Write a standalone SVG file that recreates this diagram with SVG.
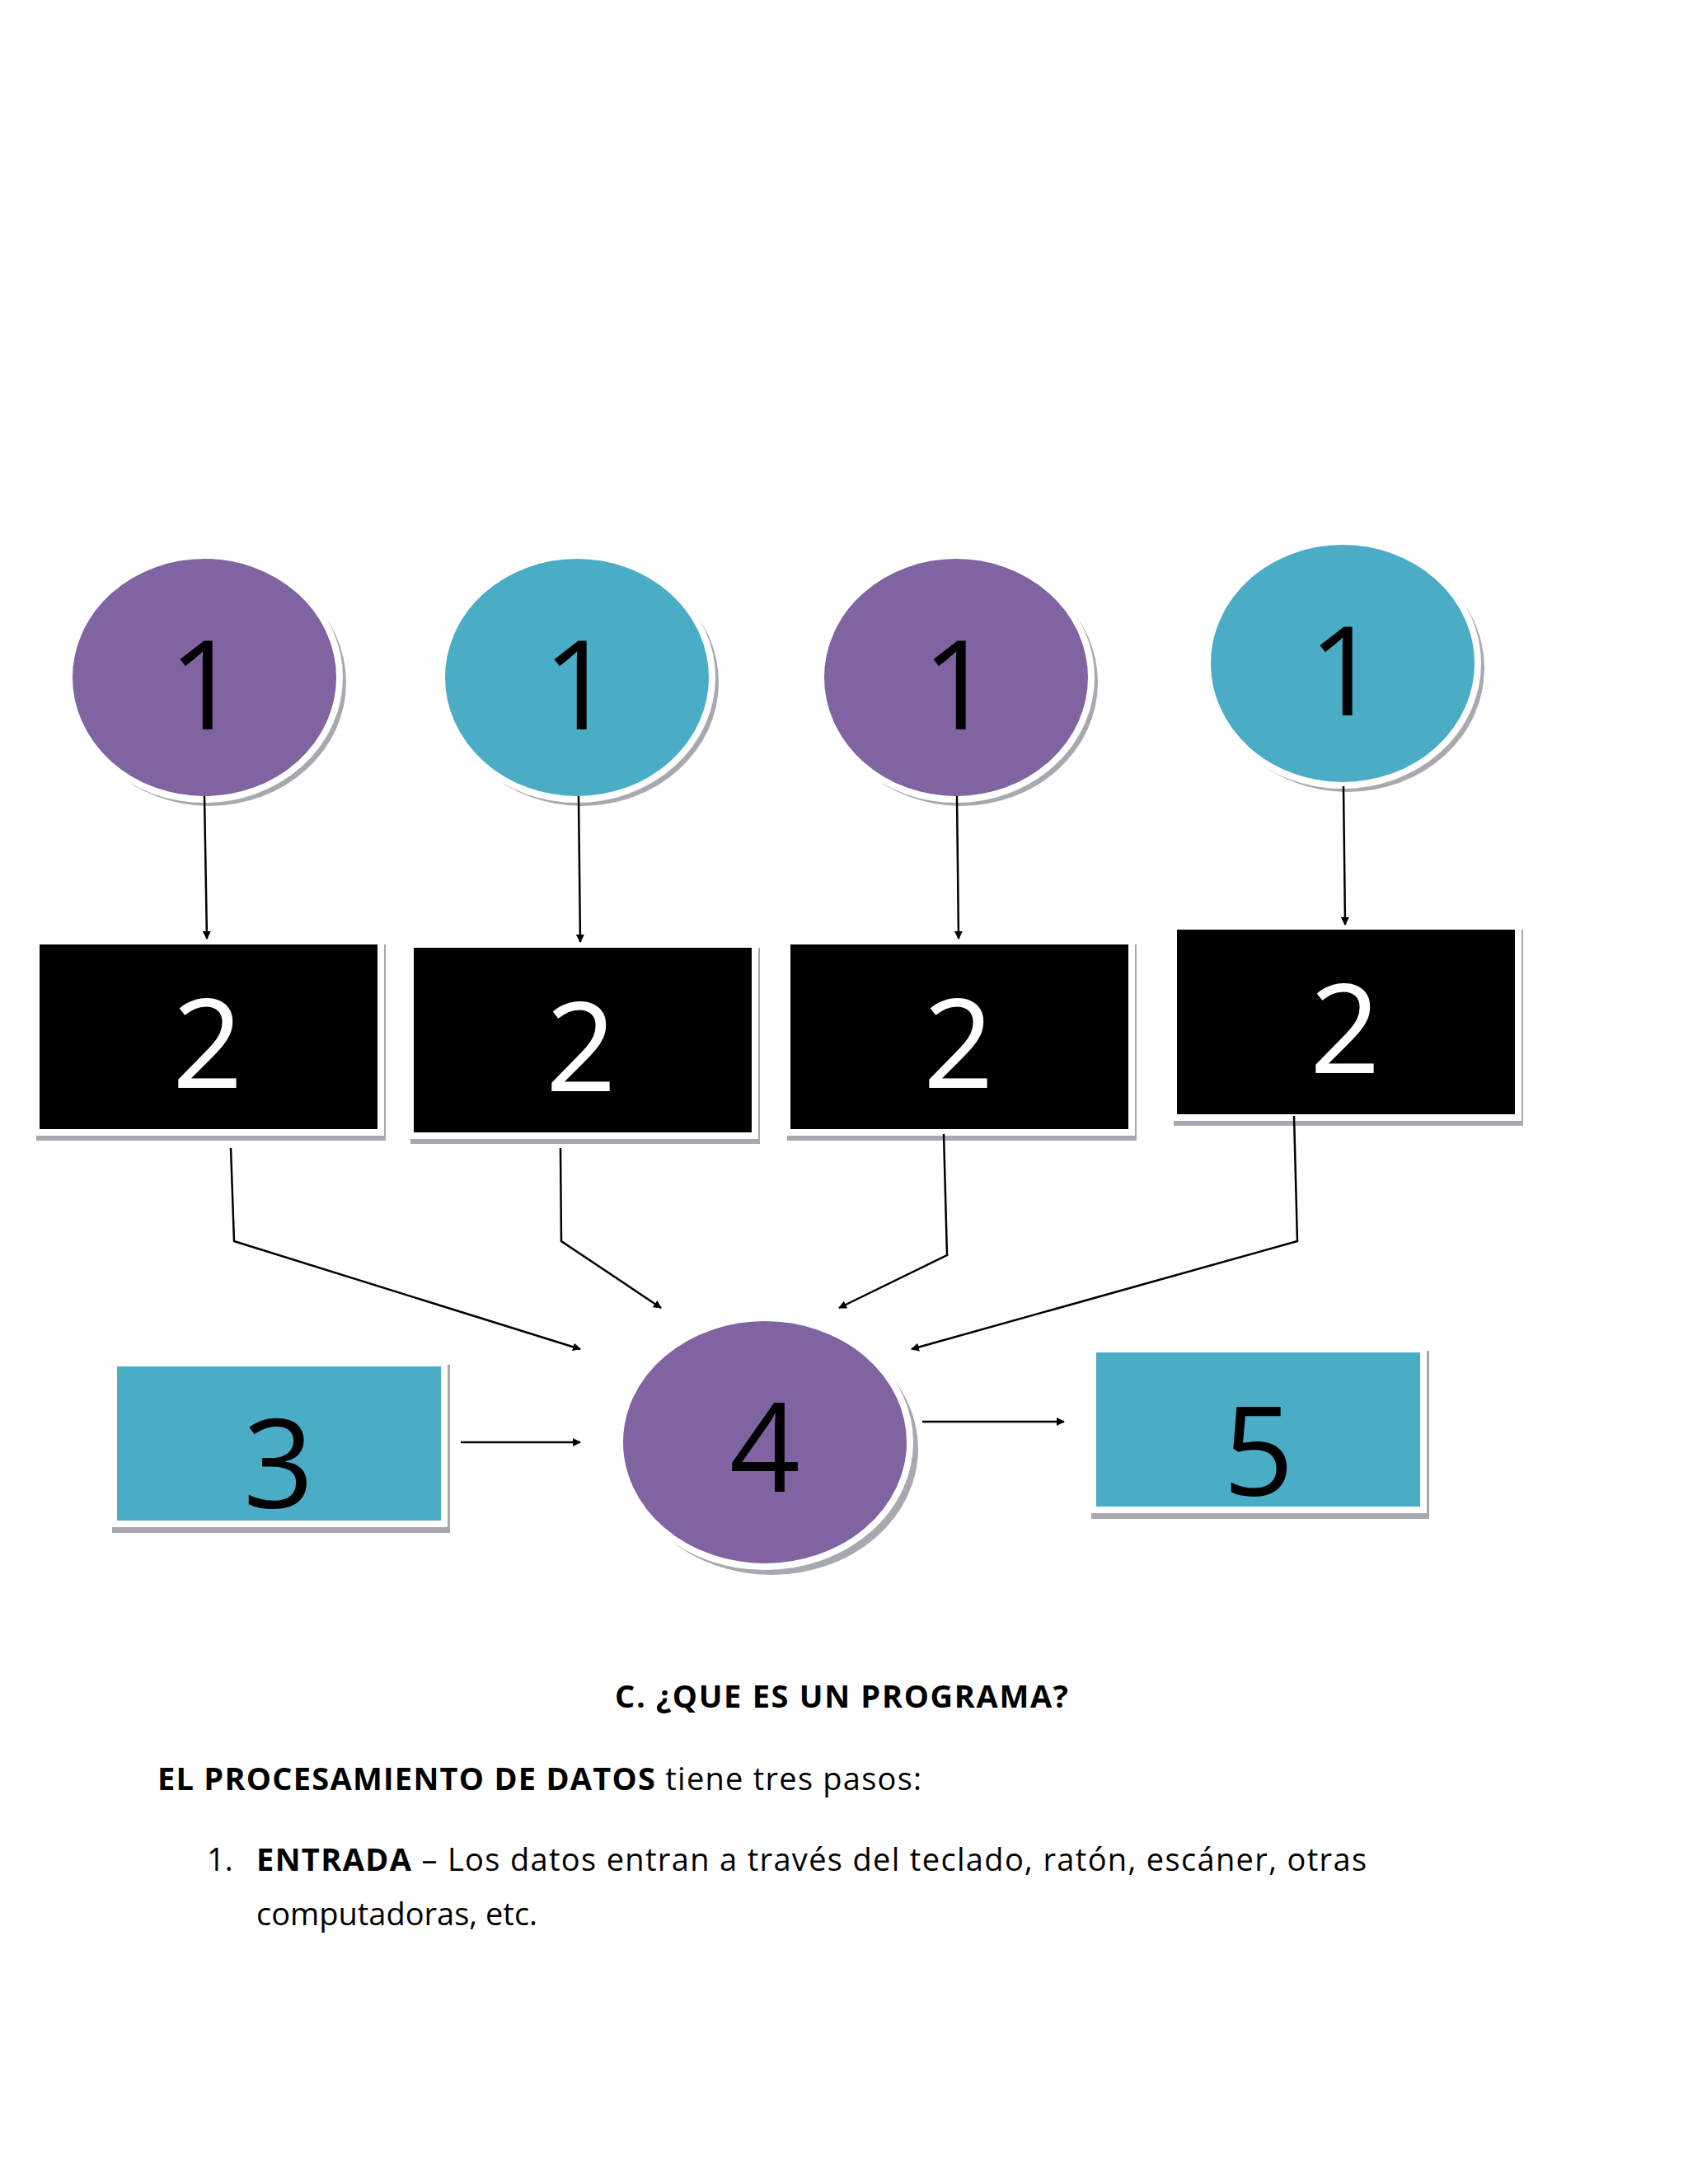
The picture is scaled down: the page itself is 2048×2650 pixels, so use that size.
<svg xmlns="http://www.w3.org/2000/svg" width="2048" height="2650" viewBox="0 0 2048 2650">
<style>
.sh{fill:#a8a8b0}
.p{fill:#8064A2;stroke:#fff;stroke-width:8}
.t{fill:#4BACC6;stroke:#fff;stroke-width:8}
.k{fill:#000;stroke:#fff;stroke-width:8}
.n{font-family:"Open Sans","Liberation Sans",sans-serif;font-size:150px;text-anchor:middle}
.c{stroke:#000;stroke-width:2.5;fill:none}
.tx{font-family:"Open Sans","Liberation Sans",sans-serif;font-size:38px;fill:#000}
</style>
<defs><marker id="a" markerWidth="10" markerHeight="10" refX="9" refY="5" orient="auto" markerUnits="userSpaceOnUse" viewBox="0 0 10 10"><path d="M0,0L10,5L0,10z"/></marker></defs>
<rect width="2048" height="2650" fill="#fff"/>
<g id="n1a"><ellipse class="sh" cx="254" cy="828" rx="166" ry="150"/><ellipse class="p" cx="248" cy="822" rx="164" ry="148"/><text class="n" x="248" y="885">1</text></g>
<g id="n1b"><ellipse class="sh" cx="706" cy="828" rx="166" ry="150"/><ellipse class="t" cx="700" cy="822" rx="164" ry="148"/><text class="n" x="702" y="885">1</text></g>
<g id="n1c"><ellipse class="sh" cx="1166" cy="828" rx="166" ry="150"/><ellipse class="p" cx="1160" cy="822" rx="164" ry="148"/><text class="n" x="1162" y="885">1</text></g>
<g id="n1d"><ellipse class="sh" cx="1635" cy="811" rx="166" ry="150"/><ellipse class="t" cx="1629" cy="805" rx="164" ry="148"/><text class="n" x="1631" y="868">1</text></g>
<g id="n2a"><rect class="sh" x="44" y="1146" width="424" height="238"/><rect class="k" x="44" y="1142" width="418" height="232"/><text class="n" x="252" y="1320" fill="#fff">2</text></g>
<g id="n2b"><rect class="sh" x="498" y="1150" width="424" height="238"/><rect class="k" x="498" y="1146" width="418" height="232"/><text class="n" x="705" y="1324" fill="#fff">2</text></g>
<g id="n2c"><rect class="sh" x="955" y="1146" width="424" height="238"/><rect class="k" x="955" y="1142" width="418" height="232"/><text class="n" x="1163" y="1320" fill="#fff">2</text></g>
<g id="n2d"><rect class="sh" x="1424" y="1128" width="424" height="238"/><rect class="k" x="1424" y="1124" width="418" height="232"/><text class="n" x="1632" y="1302" fill="#fff">2</text></g>
<g id="n3"><rect class="sh" x="136" y="1656" width="410" height="204"/><rect class="t" x="138" y="1654" width="401" height="195"/><text class="n" x="338" y="1830">3</text></g>
<g id="n4"><ellipse class="sh" cx="936" cy="1758" rx="178" ry="153"/><ellipse class="p" cx="928" cy="1750" rx="176" ry="151"/><text class="n" x="928" y="1810">4</text></g>
<g id="n5"><rect class="sh" x="1324" y="1639" width="410" height="204"/><rect class="t" x="1326" y="1637" width="401" height="195"/><text class="n" x="1527" y="1815">5</text></g>
<g id="connectors">
<path class="c" marker-end="url(#a)" d="M248,966L251,1139"/>
<path class="c" marker-end="url(#a)" d="M702,966L704,1143"/>
<path class="c" marker-end="url(#a)" d="M1161,966L1163,1139"/>
<path class="c" marker-end="url(#a)" d="M1630,954L1632,1122"/>
<path class="c" marker-end="url(#a)" d="M280,1393L284,1506L704,1637"/>
<path class="c" marker-end="url(#a)" d="M680,1393L681,1506L802,1587"/>
<path class="c" marker-end="url(#a)" d="M1145,1376L1149,1523L1018,1587"/>
<path class="c" marker-end="url(#a)" d="M1570,1354L1574,1506L1106,1637"/>
<path class="c" marker-end="url(#a)" d="M559,1750L704,1750"/>
<path class="c" marker-end="url(#a)" d="M1119,1725L1291,1725"/>
</g>
<text class="tx" x="1021" y="2072" text-anchor="middle" font-weight="bold" textLength="550">C. ¿QUE ES UN PROGRAMA?</text>
<text class="tx" x="191" y="2172" textLength="927"><tspan font-weight="bold">EL PROCESAMIENTO DE DATOS</tspan> tiene tres pasos:</text>
<text class="tx" x="251" y="2270">1.</text>
<text class="tx" x="311" y="2270" textLength="1347"><tspan font-weight="bold">ENTRADA</tspan> – Los datos entran a través del teclado, ratón, escáner, otras</text>
<text class="tx" x="311" y="2336">computadoras, etc.</text>
</svg>
